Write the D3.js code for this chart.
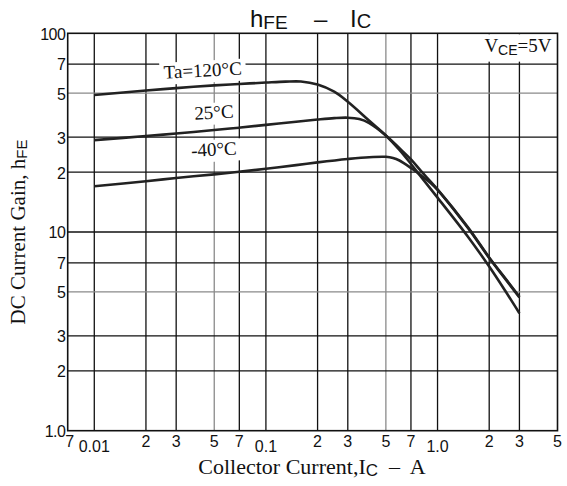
<!DOCTYPE html>
<html>
<head>
<meta charset="utf-8">
<script src="https://cdn.jsdelivr.net/npm/d3@7"></script>
<style>
  html, body { margin: 0; padding: 0; background: #fff; }
  svg { display: block; }
  .serif { font-family: "Liberation Serif", "Times New Roman", serif; }
  .sans  { font-family: "Liberation Sans", Arial, sans-serif; }
</style>
</head>
<body>
<div id="chart"></div>
<script>
// collector current (A) and hFE, one pair per temperature
const ic120  = [0.01, 0.02, 0.03, 0.05, 0.07, 0.1, 0.13, 0.16, 0.2, 0.25, 0.3, 0.4, 0.5, 0.6, 0.7, 0.8, 1.0, 1.5, 2.0, 2.5, 3.0];
const hfe120 = [48.9, 51.5, 53.0, 54.7, 55.6, 56.5, 57.1, 57.2, 55.2, 50.8, 45.2, 36.3, 30.6, 25.9, 22.0, 19.0, 14.9, 9.5, 6.7, 5.0, 3.9];
const ic25   = [0.01, 0.02, 0.03, 0.05, 0.07, 0.1, 0.15, 0.2, 0.25, 0.3, 0.35, 0.4, 0.5, 0.6, 0.7, 0.8, 1.0, 1.5, 2.0, 2.5, 3.0];
const hfe25  = [29.0, 30.4, 31.3, 32.6, 33.5, 34.6, 35.9, 36.8, 37.4, 37.6, 37.0, 35.3, 30.6, 26.4, 23.2, 20.3, 16.4, 10.6, 7.45, 5.8, 4.72];
const icM40  = [0.01, 0.02, 0.03, 0.05, 0.07, 0.1, 0.15, 0.2, 0.3, 0.4, 0.5, 0.55, 0.6, 0.7, 0.8, 0.9, 1.0, 1.5, 2.0, 2.5, 3.0];
const hfeM40 = [17.0, 18.0, 18.7, 19.5, 20.1, 20.8, 21.7, 22.4, 23.3, 23.8, 23.9, 23.6, 22.9, 21.0, 19.3, 17.8, 16.3, 10.5, 7.4, 5.76, 4.68];
const curveNames = ["Ta=120°C", "25°C", "-40°C"];

// axis ticks and their printed labels
const xTicks      = [0.007, 0.01, 0.02, 0.03, 0.05, 0.07, 0.1, 0.2, 0.3, 0.5, 0.7, 1, 2, 3, 5];
const xTickLabels = ["7", "0.01", "2", "3", "5", "7", "0.1", "2", "3", "5", "7", "1.0", "2", "3", "5"];
const yTicks      = [1, 2, 3, 5, 7, 10, 20, 30, 50, 70, 100];
const yTickLabels = ["1.0", "2", "3", "5", "7", "10", "2", "3", "5", "7", "100"];
const xGrid = [0.01, 0.02, 0.03, 0.05, 0.07, 0.1, 0.2, 0.3, 0.5, 0.7, 1, 2, 3];
const yGrid = [2, 3, 5, 7, 10, 20, 30, 50, 70];

const width  = 567;
const height = 486;
const plot = { left: 67.7, right: 557.5, top: 33.3, bottom: 430.7 };

const x = d3.scaleLog().domain([0.007, 5]).range([plot.left, plot.right]);
const y = d3.scaleLog().domain([1, 100]).range([plot.bottom, plot.top]);

const svg = d3.select('#chart')
  .append('svg')
  .attr('width', width)
  .attr('height', height);

// 5, 50, 0.05 ... lines are drawn grey in the original
const isFive = v => Math.abs(v / Math.pow(10, Math.floor(Math.log10(v) + 1e-9)) - 5) < 1e-6;

// grid
svg.append('g').selectAll('line')
  .data(xGrid)
  .join('line')
  .attr('x1', d => x(d)).attr('x2', d => x(d))
  .attr('y1', plot.top).attr('y2', plot.bottom)
  .attr('stroke', d => isFive(d) ? '#8a8a8a' : '#111')
  .attr('stroke-width', 1.3);

svg.append('g').selectAll('line')
  .data(yGrid)
  .join('line')
  .attr('x1', plot.left).attr('x2', plot.right)
  .attr('y1', d => y(d)).attr('y2', d => y(d))
  .attr('stroke', d => isFive(d) ? '#8a8a8a' : '#111')
  .attr('stroke-width', 1.3);

// white box behind the VCE note
svg.append('rect')
  .attr('x', x(1.7)).attr('y', plot.top + 1)
  .attr('width', plot.right - x(1.7) - 1)
  .attr('height', y(72) - plot.top - 1)
  .attr('fill', '#fff');

// where each curve label sits (Ic, hFE)
const labelAt = [[0.043, 60.5], [0.05, 37.2], [0.05, 24.2]];

const series = [[ic120, hfe120], [ic25, hfe25], [icM40, hfeM40]].map((p, i) => ({
  name: curveNames[i],
  points: p[0].map((c, j) => [c, p[1][j]])
}));

const labelG = svg.append('g');
series.forEach((s, i) => {
  const lx = x(labelAt[i][0]);
  const ly = y(labelAt[i][1]);
  const g = labelG.append('g')
    .attr('transform', `translate(${lx},${ly}) rotate(-3)`);
  const t = g.append('text')
    .attr('class', 'serif')
    .attr('text-anchor', 'middle')
    .attr('font-size', 19)
    .attr('fill', '#111')
    .text(s.name);
  const bb = t.node().getBBox();
  g.insert('rect', 'text')
    .attr('x', bb.x - 4).attr('y', bb.y + 1)
    .attr('width', bb.width + 8).attr('height', bb.height + 1)
    .attr('fill', '#fff');
});

// frame
svg.append('rect')
  .attr('x', plot.left).attr('y', plot.top)
  .attr('width', plot.right - plot.left)
  .attr('height', plot.bottom - plot.top)
  .attr('fill', 'none')
  .attr('stroke', '#111')
  .attr('stroke-width', 1.6);

// curves
const line = d3.line()
  .x(d => x(d[0]))
  .y(d => y(d[1]))
  .curve(d3.curveCatmullRom.alpha(0.5));

svg.append('g').selectAll('path')
  .data(series)
  .join('path')
  .attr('d', d => line(d.points))
  .attr('fill', 'none')
  .attr('stroke', '#222')
  .attr('stroke-width', 2.6)
  .attr('stroke-linejoin', 'round');

labelG.raise();

// x tick labels (decade labels sit a little lower)
const isDecade = v => Math.abs(Math.log10(v) - Math.round(Math.log10(v))) < 1e-9;
svg.append('g')
  .attr('class', 'sans')
  .selectAll('text')
  .data(xTicks)
  .join('text')
  .attr('x', d => x(d) + (d === 0.007 ? 2 : 0))
  .attr('y', d => isDecade(d) ? plot.bottom + 21.5 : plot.bottom + 16)
  .attr('text-anchor', 'middle')
  .attr('font-size', 16)
  .attr('fill', '#111')
  .text((d, i) => xTickLabels[i]);

// y tick labels
svg.append('g')
  .attr('class', 'sans')
  .selectAll('text')
  .data(yTicks)
  .join('text')
  .attr('x', plot.left - 2.5)
  .attr('y', d => y(d))
  .attr('dy', '0.4em')
  .attr('text-anchor', 'end')
  .attr('font-size', 16)
  .attr('letter-spacing', -0.6)
  .attr('fill', '#111')
  .text((d, i) => yTickLabels[i]);

// VCE note
const vce = svg.append('text')
  .attr('class', 'serif')
  .attr('x', plot.right - 6)
  .attr('y', 52)
  .attr('text-anchor', 'end')
  .attr('font-size', 19)
  .attr('fill', '#111');
vce.append('tspan').text('V');
vce.append('tspan').attr('class', 'sans').attr('font-size', 14).attr('dy', 2.5).text('CE');
vce.append('tspan').attr('dy', -2.5).text('=5V');

// title
const title = svg.append('text')
  .attr('class', 'sans')
  .attr('x', 250)
  .attr('y', 26.7)
  .attr('font-size', 24)
  .attr('fill', '#111');
title.append('tspan').text('h');
title.append('tspan').attr('font-size', 19).attr('dy', 2.6).text('FE');
title.append('tspan').attr('x', 314).attr('dy', -2.6).text('–');
title.append('tspan').attr('x', 350).text('I');
title.append('tspan').attr('font-size', 20).attr('dy', 1.6).text('C');

// axis titles
const xt = svg.append('text')
  .attr('class', 'serif')
  .attr('x', 312)
  .attr('y', 474)
  .attr('text-anchor', 'middle')
  .attr('font-size', 22)
  .attr('fill', '#111');
xt.append('tspan').text('Collector Current,I');
xt.append('tspan').attr('class', 'sans').attr('font-size', 17).attr('dy', 1.5).text('C');
xt.append('tspan').attr('dy', -1.5).attr('xml:space', 'preserve').text('  –  A');

const yt = svg.append('text')
  .attr('class', 'serif')
  .attr('transform', 'translate(25,232) rotate(-90)')
  .attr('text-anchor', 'middle')
  .attr('font-size', 21)
  .attr('fill', '#111');
yt.append('tspan').text('DC Current Gain, h');
yt.append('tspan').attr('class', 'sans').attr('font-size', 15).attr('dy', 2).text('FE');
</script>
</body>
</html>
